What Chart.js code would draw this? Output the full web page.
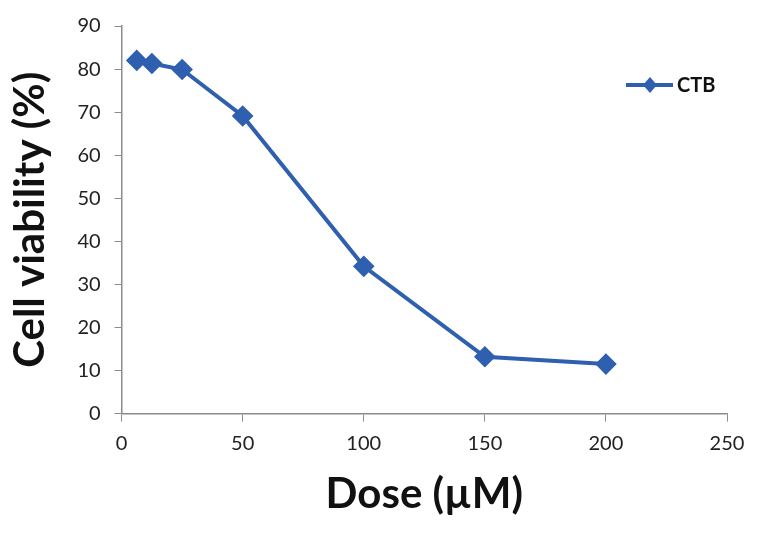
<!DOCTYPE html>
<html>
<head>
<meta charset="utf-8">
<script src="https://cdn.jsdelivr.net/npm/chart.js@4/dist/chart.umd.min.js"></script>
<style>
  html, body { margin: 0; padding: 0; background: #fff; }
  #wrap { width: 758px; height: 533px; }
</style>
</head>
<body>
<div id="wrap"><canvas id="doseChart" width="758" height="533"></canvas></div>
<script>
// Data
const doses = [6.25, 12.5, 25, 50, 100, 150, 200];
const viability = [82.0, 81.3, 79.9, 69.1, 34.2, 13.2, 11.5];
const seriesName = 'CTB';
const xTicks = [0, 50, 100, 150, 200, 250];
const yTicks = [0, 10, 20, 30, 40, 50, 60, 70, 80, 90];

const blue = '#2f60b0';
const axisGrey = '#8c8c8c';
const fontFamily = 'Lato, "Open Sans", sans-serif';

// Legend drawn inside the plot, top right like the original
const sideLegend = {
  id: 'sideLegend',
  afterDraw(chart) {
    const { ctx, chartArea } = chart;
    const x0 = chartArea.right - 101;
    const y0 = chartArea.top + 59;
    ctx.save();
    ctx.strokeStyle = blue;
    ctx.lineWidth = 4;
    ctx.beginPath();
    ctx.moveTo(x0, y0);
    ctx.lineTo(x0 + 47, y0);
    ctx.stroke();
    ctx.fillStyle = blue;
    ctx.beginPath();
    ctx.moveTo(x0 + 24, y0 - 8);
    ctx.lineTo(x0 + 31, y0);
    ctx.lineTo(x0 + 24, y0 + 8);
    ctx.lineTo(x0 + 17, y0);
    ctx.closePath();
    ctx.fill();
    ctx.fillStyle = '#111';
    ctx.font = 'bold 20px ' + fontFamily;
    ctx.textBaseline = 'middle';
    ctx.fillText(seriesName, x0 + 51, y0 + 1);
    ctx.restore();
  }
};

const ctx = document.getElementById('doseChart').getContext('2d');
const chart = new Chart(ctx, {
  type: 'line',
  data: {
    datasets: [{
      label: seriesName,
      data: doses.map((d, i) => ({ x: d, y: viability[i] })),
      borderColor: blue,
      backgroundColor: blue,
      borderWidth: 4,
      pointStyle: 'rectRot',
      pointRadius: 8,
      pointHoverRadius: 8,
      fill: false,
      tension: 0
    }]
  },
  options: {
    responsive: false,
    animation: false,
    layout: { padding: { top: 24, right: 31, left: 5, bottom: 13 } },
    plugins: {
      legend: { display: false },
      tooltip: { enabled: false }
    },
    scales: {
      x: {
        type: 'linear',
        min: 0,
        max: 250,
        afterBuildTicks: axis => { axis.ticks = xTicks.map(v => ({ value: v })); },
        grid: { drawOnChartArea: false, drawTicks: true, tickLength: 8, color: axisGrey },
        border: { color: axisGrey, width: 1.5 },
        ticks: { color: '#222', font: { family: fontFamily, size: 20 }, padding: 10, maxRotation: 0 },
        title: {
          display: true,
          text: 'Dose (µM)',
          color: '#111',
          font: { family: fontFamily, size: 42, weight: 'bold' },
          padding: { top: 4, bottom: 0 }
        }
      },
      y: {
        min: 0,
        max: 90,
        afterBuildTicks: axis => { axis.ticks = yTicks.map(v => ({ value: v })); },
        grid: { drawOnChartArea: false, drawTicks: true, tickLength: 7, color: axisGrey },
        border: { color: axisGrey, width: 1.5 },
        ticks: { color: '#222', font: { family: fontFamily, size: 20 }, padding: 14 },
        title: {
          display: true,
          text: 'Cell viability (%)',
          color: '#111',
          font: { family: fontFamily, size: 42, weight: 'bold' },
          padding: { top: 0, bottom: 8 }
        }
      }
    }
  },
  plugins: [sideLegend]
});
</script>
</body>
</html>
